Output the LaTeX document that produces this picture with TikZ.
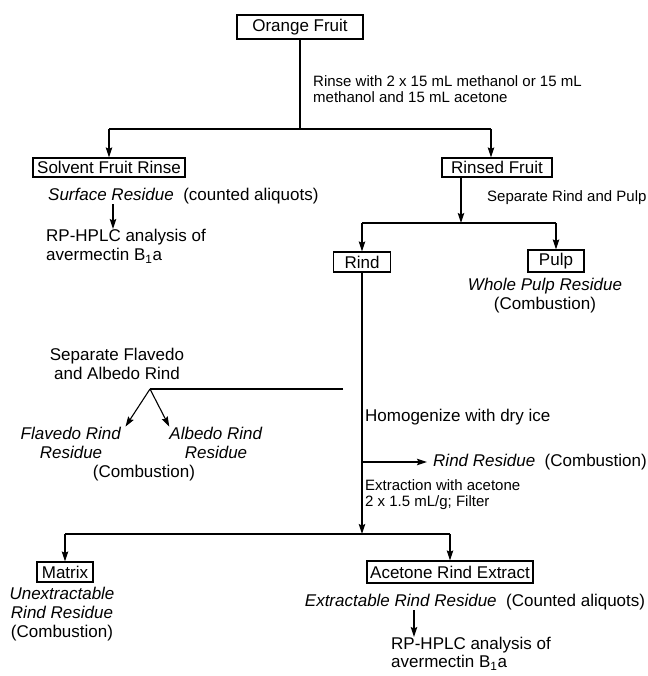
\documentclass[tikz,border=0pt]{standalone}
\usepackage{fontspec}
\setmainfont{Liberation Sans}
\usetikzlibrary{arrows.meta}
\begin{document}
\begin{tikzpicture}[x=1pt,y=-1pt,
  box/.style={draw,line width=1.1pt,inner sep=0pt,font=\fontsize{17}{19}\selectfont},
  txt/.style={inner sep=0pt,font=\fontsize{17}{19}\selectfont},
  small/.style={inner sep=0pt,font=\fontsize{15}{16}\selectfont},
  ln/.style={line width=1.1pt},
  arr/.style={line width=1.1pt,-{Stealth[length=10pt,width=6.5pt,inset=1.5pt]}}]
\useasboundingbox (0,0) rectangle (647,676);

% top
\node[box,minimum width=126pt,minimum height=24pt] (orange) at (300,27) {Orange Fruit};
\node[small,anchor=west,align=left] (rinse) at (313,89.5) {Rinse with 2 x 15 mL methanol or 15 mL\\methanol and 15 mL acetone};
\coordinate (bar1) at (299,129);
\coordinate (rarr) at (491,0);
\node[box,minimum width=152pt,minimum height=19pt] (solvent) at (109,167.5) {Solvent Fruit Rinse};
\node[box,minimum width=110pt,minimum height=19pt] (rinsed) at (497,167.5) {Rinsed Fruit};
\draw[ln] (orange.south) -- (orange.south |- bar1);
\draw[ln] (solvent.north |- bar1) -- (rarr |- bar1);
\draw[arr] (solvent.north |- bar1) -- (solvent.north);
\draw[arr] (rarr |- bar1) -- (rarr |- rinsed.north);

% surface residue
\node[txt,anchor=west] (surface) at (48,196) {\textit{Surface Residue}\ \ (counted aliquots)};
\coordinate (a1) at (113,0);
\node[txt,anchor=north west,align=left] (hplc1) at (46,229) {RP-HPLC analysis of\\avermectin B\textsubscript{1}a};
\draw[arr] (surface.south -| a1) -- (hplc1.north -| a1);

% rind / pulp
\coordinate (bar2) at (461,223);
\node[small,anchor=west] (seprp) at (487,198) {Separate Rind and Pulp};
\draw[arr] (rinsed.south -| bar2) -- (bar2);
\node[box,minimum width=57pt,minimum height=20pt] (rind) at (362,262) {Rind};
\node[box,minimum width=56pt,minimum height=22pt] (pulp) at (556,261) {Pulp};
\draw[ln] (rind.north |- bar2) -- (pulp.north |- bar2);
\draw[arr] (rind.north |- bar2) -- (rind.north);
\draw[arr] (pulp.north |- bar2) -- (pulp.north);
\node[txt,align=center] (wpulp) at (545,296) {\textit{Whole Pulp Residue}\\(Combustion)};

% flavedo / albedo
\node[txt,align=center] (sepfa) at (117,364) {Separate Flavedo\\and Albedo Rind};
\coordinate (fork) at (150,389);
\coordinate (flend) at (343,389);
\draw[ln] (flend) -- (fork);
\node[txt,align=center] (flav) at (71,442.5) {\textit{Flavedo Rind}\\\textit{Residue}};
\node[txt,align=center] (albe) at (216,442.5) {\textit{Albedo Rind}\\\textit{Residue}};
\node[txt] (comb1) at (144,473) {(Combustion)};
\draw[arr] (fork) -- ([xshift=4pt]flav.north east);
\draw[arr] (fork) -- (albe.north west);

% main rind line
\coordinate (bar3) at (361,534);
\draw[arr] (rind.south) -- (rind.south |- bar3);
\node[txt,anchor=west] (homog) at (365,417) {Homogenize with dry ice};
\node[txt,anchor=west] (rindres) at (433,462) {\textit{Rind Residue}\ \ (Combustion)};
\draw[arr] (rind.south |- rindres.west) -- ([xshift=-6pt]rindres.west);
\node[small,anchor=west,align=left] (extr) at (365,494.5) {Extraction with acetone\\2 x 1.5 mL/g; Filter};

% bottom
\node[box,minimum width=56pt,minimum height=20pt] (matrix) at (65,572) {Matrix};
\node[box,minimum width=166pt,minimum height=22pt] (acet) at (450,572) {Acetone Rind Extract};
\draw[ln] (matrix.north |- bar3) -- (acet.north |- bar3);
\draw[arr] (matrix.north |- bar3) -- (matrix.north);
\draw[arr] (acet.north |- bar3) -- (acet.north);
\node[txt,align=center] (unex) at (62,614) {\textit{Unextractable}\\\textit{Rind Residue}\\(Combustion)};
\node[txt] (extres) at (475,602) {\textit{Extractable Rind Residue}\ \ (Counted aliquots)};
\coordinate (a2) at (414,0);
\node[txt,anchor=north west,align=left,font=\fontsize{17}{18}\selectfont] (hplc2) at (391,637) {RP-HPLC analysis of\\avermectin B\textsubscript{1}a};
\draw[arr] (extres.south -| a2) -- (hplc2.north -| a2);
\end{tikzpicture}
\end{document}
